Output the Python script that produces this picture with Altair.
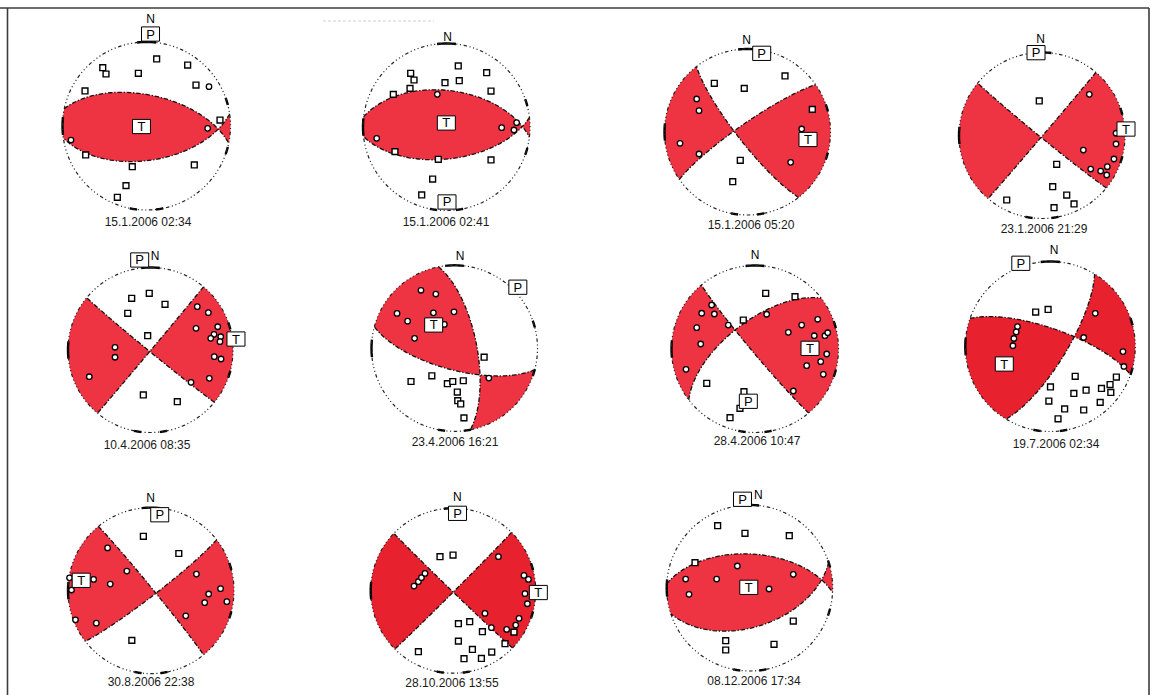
import math
import numpy as np
import pandas as pd
import altair as alt

# ------------------------------------------------------------------ events
event_dates = [
    "15.1.2006 02:34", "15.1.2006 02:41", "15.1.2006 05:20", "23.1.2006 21:29",
    "10.4.2006 08:35", "23.4.2006 16:21", "28.4.2006 10:47", "19.7.2006 02:34",
    "30.8.2006 22:38", "28.10.2006 13:55", "08.12.2006 17:34",
]

# nodal planes, strike / dip in degrees (right-hand rule)
strike_a = [281.9, 277.0, 142.0, 129.2, 129.3, 349.0, 140.0, 289.3, 320.7, 134.0, 273.0]
dip_a = [59.7, 54.0, 80.0, 88.0, 88.4, 68.1, 86.7, 72.9, 87.9, 89.0, 56.3]
strike_b = [81.7, 83.4, 235.2, 40.5, 40.0, 105.0, 232.5, 31.4, 52.3, 45.0, 72.0]
dip_b = [56.3, 58.6, 81.6, 89.5, 89.6, 68.9, 63.3, 74.6, 85.0, 89.0, 51.2]

# first-motion readings, lower-hemisphere equal-area coordinates (x east, y north)
dilatations = [
    [(0.121, 0.798), (0.490, 0.726), (-0.521, 0.694), (-0.482, 0.619), (-0.097, 0.627),
     (0.589, 0.488), (-0.732, 0.417), (0.875, 0.071), (-0.724, -0.345), (-0.169, -0.484),
     (0.569, -0.464), (-0.244, -0.710), (-0.347, -0.849)],
    [(0.141, 0.731), (-0.429, 0.643), (-0.389, 0.563), (0.481, 0.650), (-0.018, 0.531),
     (0.153, 0.555), (-0.437, 0.463), (-0.637, 0.391), (0.533, 0.431), (-0.617, -0.295),
     (-0.098, -0.387), (0.533, -0.395), (-0.166, -0.623), (-0.297, -0.814)],
    [(-0.400, 0.587), (-0.039, 0.526), (0.452, 0.675), (0.781, 0.273), (-0.087, -0.341),
     (-0.178, -0.599)],
    [(-0.033, 0.416), (0.177, -0.347), (0.129, -0.617), (0.298, -0.717), (0.386, -0.825),
     (0.145, -0.870), (-0.425, -0.777)],
    [(-0.015, 0.687), (-0.228, 0.627), (0.176, 0.554), (-0.276, 0.445), (-0.034, 0.173),
     (-0.087, -0.545), (0.325, -0.627)],
    [(0.357, -0.107), (-0.524, -0.400), (-0.273, -0.331), (-0.086, -0.427), (-0.021, -0.400),
     (0.106, -0.391), (0.034, -0.527), (0.039, -0.631), (0.075, -0.670), (0.114, -0.838)],
    [(0.128, 0.667), (0.479, 0.626), (-0.140, 0.347), (-0.578, -0.411), (-0.132, -0.511),
     (-0.180, -0.710), (-0.299, -0.823)],
    [(-0.172, 0.405), (-0.026, 0.436), (0.293, -0.351), (0.777, -0.359), (0.703, -0.448),
     (0.002, -0.476), (0.421, -0.514), (0.277, -0.552), (0.602, -0.494), (0.712, -0.541),
     (-0.017, -0.642), (0.587, -0.657), (0.169, -0.735), (0.393, -0.747), (0.091, -0.851)],
    [(-0.092, 0.654), (0.335, 0.447), (-0.231, -0.600)],
    [(-0.160, 0.412), (-0.002, 0.432), (0.063, -0.400), (0.200, -0.376), (0.354, -0.497),
     (0.063, -0.611), (0.233, -0.712), (0.467, -0.744), (0.342, -0.821), (0.131, -0.824),
     (-0.422, -0.739), (0.628, -0.642), (0.737, -0.502)],
    [(-0.386, 0.751), (-0.057, 0.659), (0.477, 0.630), (-0.659, 0.305), (0.525, -0.398),
     (-0.289, -0.635), (-0.289, -0.747), (0.293, -0.678)],
]
compressions = [
    [(0.744, 0.468), (0.728, -0.028), (-0.899, -0.167)],
    [(-0.110, 0.391), (-0.836, -0.136), (0.661, -0.008), (0.808, -0.036), (0.840, 0.052)],
    [(-0.612, 0.398), (-0.584, 0.257), (-0.813, -0.136), (-0.584, -0.265), (0.653, 0.036),
     (0.520, -0.365)],
    [(0.570, 0.496), (0.498, -0.175), (0.892, 0.027), (0.892, -0.102), (0.867, -0.283),
     (0.787, -0.376), (0.707, -0.428), (0.780, -0.476), (0.587, -0.404)],
    [(0.567, 0.525), (0.701, 0.452), (0.552, 0.263), (0.815, 0.282), (0.770, 0.190),
     (0.730, 0.142), (0.851, 0.161), (0.842, 0.101), (0.773, -0.081), (0.855, -0.109),
     (0.713, -0.343), (0.491, -0.392), (-0.430, 0.033), (-0.430, -0.088), (-0.742, -0.324)],
    [(-0.404, 0.699), (-0.225, 0.654), (-0.692, 0.420), (-0.565, 0.327), (-0.254, 0.427),
     (-0.006, 0.439), (-0.122, 0.288), (-0.481, 0.120), (0.414, -0.359)],
    [(-0.519, 0.527), (-0.638, 0.428), (-0.487, 0.419), (-0.698, 0.255), (-0.650, 0.060),
     (-0.320, 0.287), (0.140, 0.416), (-0.826, -0.243), (0.559, 0.287), (0.751, 0.356),
     (0.399, 0.200), (0.710, 0.159), (0.838, 0.159), (0.871, 0.195), (0.859, -0.060),
     (0.787, -0.152), (0.619, -0.200), (0.818, -0.303), (0.459, -0.503)],
    [(0.529, 0.390), (0.393, 0.106), (-0.386, 0.234), (-0.401, 0.172), (-0.428, 0.094),
     (-0.440, 0.009), (0.855, -0.060), (0.866, -0.235)],
    [(-0.523, 0.514), (-0.291, 0.235), (-0.982, 0.154), (-0.691, 0.135), (-0.958, 0.007),
     (-0.491, 0.079), (-0.910, -0.352), (-0.659, -0.392), (0.547, 0.199), (0.838, 0.023),
     (0.695, -0.041), (0.647, -0.145), (0.914, -0.133), (0.419, -0.304)],
    [(0.548, 0.412), (-0.475, 0.056), (-0.422, 0.109), (-0.385, 0.158), (-0.342, 0.210),
     (0.858, 0.185), (0.912, 0.137), (0.870, -0.036), (0.899, -0.158), (0.385, -0.275),
     (0.463, -0.448), (0.648, -0.469), (0.758, -0.417), (0.798, -0.336)],
    [(-0.771, 0.108), (-0.731, -0.076), (-0.398, 0.108), (-0.149, 0.265), (0.233, -0.012),
     (0.525, 0.165)],
]

# P and T axis label positions and the north marker, same disc coordinates
p_axis_pos = [(0.048, 1.095), (0.006, -0.898), (0.171, 0.948), (-0.072, 0.998), (-0.131, 1.091),
              (0.763, 0.736), (-0.080, -0.626), (-0.347, 0.979), (0.105, 0.914), (0.052, 0.938),
              (-0.087, 1.069)]
t_axis_pos = [(-0.060, -0.006), (-0.002, 0.048), (0.729, -0.090), (1.012, 0.078), (1.036, 0.133),
              (-0.251, 0.281), (0.659, 0.008), (-0.541, -0.206), (-0.841, 0.124), (1.032, -0.022),
              (-0.011, 0.008)]
north_pos = [(0.050, 1.274), (0.014, 1.074), (-0.010, 1.108), (-0.016, 1.163), (0.055, 1.139),
             (0.066, 1.112), (0.000, 1.126), (0.044, 1.135), (-0.004, 1.112), (0.050, 1.139),
             (0.104, 1.120)]

# ------------------------------------------------------------------ page layout
centre_x = [146.5, 446.5, 747.5, 1042.0, 150.5, 454.5, 755.0, 1050.3, 151.0, 453.2, 749.7]
centre_y = [126.0, 127.0, 132.0, 135.5, 350.0, 348.3, 349.0, 346.5, 590.6, 590.7, 588.0]
radius = [84.0, 83.5, 83.0, 83.0, 82.5, 83.0, 83.5, 85.0, 83.0, 82.5, 83.0]
date_x = [148, 446, 751, 1044, 147, 455, 757, 1056, 151, 452, 754]
date_y = [222, 222, 225, 229, 445, 442, 441, 444, 682, 683, 681]
fill_red = ["#EE3443", "#EE3443", "#EE3443", "#EE3443", "#EE3443", "#EE3443",
            "#EE3443", "#E8212F", "#EE3443", "#E8212F", "#EE3443"]

PAGE_W, PAGE_H = 1158, 695
SQ2 = math.sqrt(2.0)


# ------------------------------------------------------------------ geometry
def plane_normal(strike, dip):
    d = math.radians(dip)
    dd = math.radians(strike) + math.pi / 2
    return np.array([math.sin(d) * math.sin(dd), math.sin(d) * math.cos(dd), -math.cos(d)])


def horizontal(az):
    a = math.radians(az)
    return np.array([math.sin(a), math.cos(a), 0.0])


def to_disc(v):
    """Lower-hemisphere Schmidt projection of a direction (E, N, Down)."""
    v = v / np.linalg.norm(v)
    if v[2] < -1e-9:
        v = -v
    h = math.hypot(v[0], v[1])
    if h < 1e-12:
        return 0.0, 0.0
    inc = math.atan2(h, v[2])
    r = SQ2 * math.sin(inc / 2)
    return r * v[0] / h, r * v[1] / h


def from_disc(x, y):
    r = math.hypot(x, y)
    if r < 1e-12:
        return np.array([0.0, 0.0, 1.0])
    inc = 2 * math.asin(min(r / SQ2, 1.0))
    return np.array([math.sin(inc) * x / r, math.sin(inc) * y / r, math.cos(inc)])


def great_arc(a, b, n=60):
    a = a / np.linalg.norm(a)
    b = b / np.linalg.norm(b)
    w = math.acos(max(-1.0, min(1.0, float(a @ b))))
    if w < 1e-9:
        return [a]
    return [(math.sin((1 - t) * w) * a + math.sin(t * w) * b) / math.sin(w)
            for t in np.linspace(0, 1, n)]


def primitive_arc(a0, a1):
    steps = max(2, int(abs(a1 - a0)) + 1)
    return [horizontal(a) for a in np.linspace(a0, a1, steps)]


def to_page(i, pts):
    cx, cy, r = centre_x[i], centre_y[i], radius[i]
    return [[round(cx + r * x, 2), round(cy - r * y, 2)] for x, y in pts]


def feature(kind, coords, color="black"):
    return {"type": "Feature", "properties": {"color": color},
            "geometry": {"type": kind, "coordinates": coords}}


red_shapes, outline_lines, nodal_lines, tick_lines = [], [], [], []
rows_dil, rows_comp, rows_box, rows_north, rows_date = [], [], [], [], []

for i in range(len(event_dates)):
    n1 = plane_normal(strike_a[i], dip_a[i])
    n2 = plane_normal(strike_b[i], dip_b[i])
    null_axis = np.cross(n1, n2)
    null_axis /= np.linalg.norm(null_axis)
    if null_axis[2] < 0:
        null_axis = -null_axis

    def pol(v):
        return 1 if (n1 @ v) * (n2 @ v) > 0 else -1

    # compressional quadrants: the sign that agrees best with the readings
    def agreement(s):
        good = sum(pol(from_disc(*p)) == s for p in compressions[i])
        good += sum(pol(from_disc(*p)) != s for p in dilatations[i])
        return good
    red_sign = 1 if agreement(1) >= agreement(-1) else -1

    ends = sorted([strike_a[i] % 360, (strike_a[i] + 180) % 360,
                   strike_b[i] % 360, (strike_b[i] + 180) % 360])
    for k in range(4):
        a0 = ends[k]
        a1 = ends[(k + 1) % 4]
        if a1 <= a0:
            a1 += 360
        if pol(horizontal((a0 + a1) / 2)) != red_sign:
            continue
        ring = great_arc(null_axis, horizontal(a0)) + primitive_arc(a0, a1) \
            + great_arc(horizontal(a1), null_axis)
        pts = to_page(i, [to_disc(v) for v in ring])
        pts.append(pts[0])
        red_shapes.append(feature("Polygon", [pts], fill_red[i]))

    # nodal planes
    for s in (strike_a[i], strike_b[i]):
        trace = great_arc(horizontal(s), null_axis) + great_arc(null_axis, horizontal(s + 180))
        nodal_lines.append(feature("LineString", to_page(i, [to_disc(v) for v in trace])))

    # primitive circle
    circle = [(math.sin(math.radians(a)), math.cos(math.radians(a))) for a in range(0, 361)]
    outline_lines.append(feature("LineString", to_page(i, circle)))

    # heavier marks on the primitive at the compass points
    for ac, half in [(0, 6.5), (270, 6.0), (73, 2.5), (107, 2.5), (171, 2.5), (189, 2.5)]:
        arc = [(math.sin(math.radians(a)), math.cos(math.radians(a)))
               for a in np.linspace(ac - half, ac + half, 9)]
        tick_lines.append(feature("LineString", to_page(i, arc)))

    for p in dilatations[i]:
        lon, lat = to_page(i, [p])[0]
        rows_dil.append({"lon": lon, "lat": lat, "event": event_dates[i]})
    for p in compressions[i]:
        lon, lat = to_page(i, [p])[0]
        rows_comp.append({"lon": lon, "lat": lat, "event": event_dates[i]})
    for name, pos in (("P", p_axis_pos[i]), ("T", t_axis_pos[i])):
        lon, lat = to_page(i, [pos])[0]
        rows_box.append({"lon": lon, "lat": lat, "label": name})
    lon, lat = to_page(i, [north_pos[i]])[0]
    rows_north.append({"lon": lon, "lat": lat, "label": "N"})
    rows_date.append({"lon": date_x[i], "lat": date_y[i], "label": event_dates[i]})

# sheet border and a faint stray rule near the top edge
frame_lines = [
    feature("LineString", [[0, 8], [1149, 8]]),
    feature("LineString", [[1149, 8], [1149, PAGE_H]]),
    feature("LineString", [[7.5, 8], [7.5, PAGE_H]]),
]
faint_lines = [feature("LineString", [[323, 21], [434, 21]], "#d6d6d6")]

# ------------------------------------------------------------------ chart
frame = alt.Chart(alt.Data(values=frame_lines)).mark_geoshape(
    filled=False, stroke="#3c3c3c", strokeWidth=1.6)
faint = alt.Chart(alt.Data(values=faint_lines)).mark_geoshape(
    filled=False, stroke="#d0d0d0", strokeWidth=1.2, strokeDash=[3, 2])
fills = alt.Chart(alt.Data(values=red_shapes)).mark_geoshape(strokeWidth=0).encode(
    fill=alt.Fill("properties.color:N", scale=None))
ticks = alt.Chart(alt.Data(values=tick_lines)).mark_geoshape(
    filled=False, stroke="black", strokeWidth=2.4)
outlines = alt.Chart(alt.Data(values=outline_lines)).mark_geoshape(
    filled=False, stroke="#222222", strokeWidth=1.2,
    strokeDash=[3.5, 2.6, 1.1, 2.6, 1.1, 2.6, 1.1, 2.6])
nodals = alt.Chart(alt.Data(values=nodal_lines)).mark_geoshape(
    filled=False, stroke="#111111", strokeWidth=1.3, strokeDash=[4.5, 1.8, 1.3, 1.8])

dil = alt.Chart(pd.DataFrame(rows_dil)).mark_point(
    shape="square", size=34, filled=True, fill="white", stroke="black",
    strokeWidth=1.4, opacity=1).encode(longitude="lon:Q", latitude="lat:Q")
comp = alt.Chart(pd.DataFrame(rows_comp)).mark_point(
    shape="circle", size=30, filled=True, fill="white", stroke="black",
    strokeWidth=1.3, opacity=1).encode(longitude="lon:Q", latitude="lat:Q")

boxes = alt.Chart(pd.DataFrame(rows_box)).mark_point(
    shape="M-1.2,-0.95H1.2V0.95H-1.2Z", size=225, filled=True, fill="white",
    stroke="black", strokeWidth=1, opacity=1).encode(longitude="lon:Q", latitude="lat:Q")
box_text = alt.Chart(pd.DataFrame(rows_box)).mark_text(
    font="Liberation Sans", fontSize=13, color="black", baseline="middle", align="center",
    dy=0.5).encode(longitude="lon:Q", latitude="lat:Q", text="label:N")
north = alt.Chart(pd.DataFrame(rows_north)).mark_text(
    font="Liberation Sans", fontSize=12, color="black", baseline="middle",
    align="center").encode(longitude="lon:Q", latitude="lat:Q", text="label:N")
dates = alt.Chart(pd.DataFrame(rows_date)).mark_text(
    font="Liberation Sans", fontSize=12, color="#1a1a1a", baseline="middle",
    align="center").encode(longitude="lon:Q", latitude="lat:Q", text="label:N")

chart = alt.layer(
    frame, faint, fills, ticks, outlines, nodals, dil, comp, boxes, box_text, north, dates
).properties(
    width=PAGE_W, height=PAGE_H, padding=0, autosize="none", background="white",
    projection=alt.Projection(type="identity", scale=1, translate=[0, 0]),
).configure_view(strokeWidth=0)

chart.save("out.html", embed_options={"renderer": "svg", "actions": False})
